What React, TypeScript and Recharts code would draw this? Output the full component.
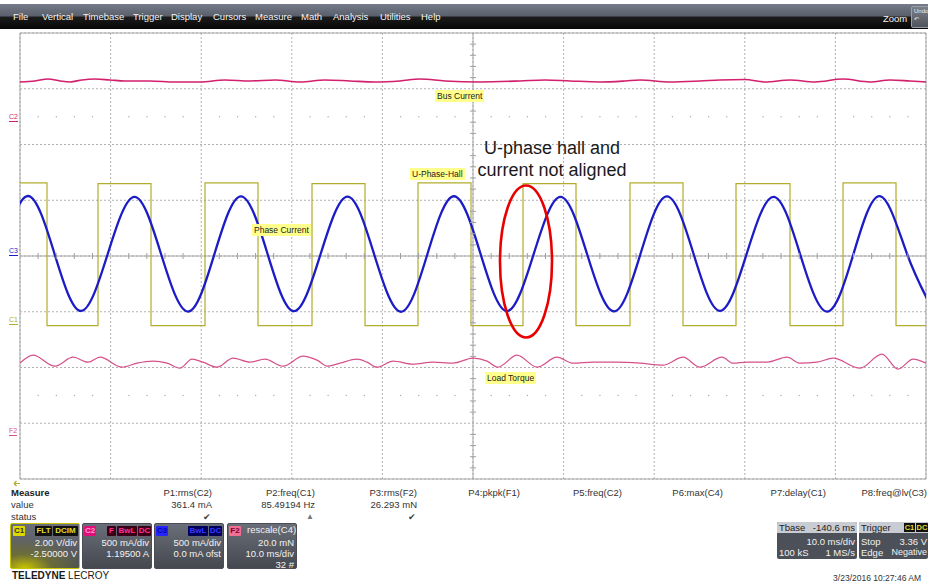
import React from 'react';
import { ComposedChart, Line, XAxis, YAxis, CartesianGrid, ReferenceLine, ReferenceArea } from 'recharts';

// ---------------- data (time in ms, 10 ms/div) ----------------
// C1 : U-phase hall (V)
const hallTime = [0, 2.98, 8.61, 14.46, 20.42, 26.27, 32.23, 38.08, 43.93, 49.78, 55.52, 61.37, 67.33, 73.18, 79.03, 84.99, 90.84, 96.69, 100];
const hallVolts = [5.12, 0, 5.1, 0, 5.12, 0, 5.1, 0, 5.12, 0, 5.1, 0, 5.12, 0, 5.1, 0, 5.12, 0, 0];

// C3 : phase current (mA)
const phaseTime = [-2.0, 0.88, 3.81, 6.73, 9.69, 12.64, 15.56, 18.54, 21.47, 24.39, 27.32, 30.24, 33.19, 36.15, 39.07, 42.05, 44.98, 47.9, 50.83, 53.75, 56.71, 59.66, 62.58, 65.56, 68.49, 71.41, 74.34, 77.26, 80.21, 83.17, 86.09, 89.07, 92.0, 94.92, 97.9, 100.83];
const phaseMilliamps = [20, 538, 20, -493, 20, 530, 20, -498, 20, 535, 20, -495, 20, 532, 20, -500, 20, 536, 20, -494, 20, 530, 20, -497, 20, 534, 20, -492, 20, 531, 20, -499, 20, 537, 20, -495];

// C2 : bus current (mA)
const busTime = [0, 1.66, 3.09, 4.42, 5.52, 6.84, 8.28, 9.93, 11.59, 14.35, 17.11, 19.87, 22.63, 25.39, 28.15, 30.91, 33.66, 36.42, 39.18, 41.94, 44.15, 46.91, 50.77, 55.19, 57.95, 60.71, 64.02, 66.78, 68.43, 71.74, 75.06, 77.26, 80.02, 82.23, 84.99, 87.75, 90.84, 93.82, 96.03, 98.23, 100];
const busMilliamps = [366, 375, 392, 375, 366, 384, 392, 384, 375, 375, 366, 366, 384, 375, 384, 366, 384, 375, 366, 375, 392, 375, 366, 375, 384, 375, 366, 375, 384, 366, 375, 384, 388, 366, 384, 366, 392, 366, 384, 375, 366];

// F2 : load torque (mN)
const torqueTime = [0, 1.43, 3.86, 5.85, 7.51, 8.83, 11.26, 12.91, 14.68, 16.23, 17.66, 18.98, 20.2, 21.74, 23.51, 25.39, 27.04, 29.03, 31.24, 32.78, 34.0, 35.32, 37.2, 38.3, 39.4, 41.17, 43.38, 45.58, 47.79, 50.0, 51.55, 52.76, 54.86, 57.06, 59.27, 61.04, 63.25, 65.89, 68.43, 70.97, 73.18, 75.06, 77.48, 78.7, 80.24, 82.45, 84.66, 86.09, 87.97, 89.74, 92.72, 95.14, 96.91, 98.57, 100];
const torqueMilliNewtons = [24.75, 27.62, 23.67, 26.9, 25.11, 26.9, 23.32, 24.75, 25.47, 24.75, 22.96, 26.19, 25.11, 23.32, 26.54, 25.11, 26.19, 23.67, 27.26, 25.83, 23.67, 24.75, 26.19, 25.11, 23.32, 25.47, 24.39, 25.11, 24.75, 26.54, 25.47, 23.32, 27.62, 23.32, 26.9, 24.75, 25.11, 25.11, 24.75, 24.03, 26.9, 23.32, 26.9, 24.75, 25.11, 25.11, 26.9, 24.75, 25.11, 26.54, 22.96, 27.98, 22.6, 26.19, 24.75];

// axis ticks (major divisions)
const xTicks = [0, 10, 20, 30, 40, 50, 60, 70, 80, 90, 100];
const yTicks = [-4, -3, -2, -1, 0, 1, 2, 3, 4];

// text content
const menuLabels = ['File', 'Vertical', 'Timebase', 'Trigger', 'Display', 'Cursors', 'Measure', 'Math', 'Analysis', 'Utilities', 'Help'];
const measureNames = ['P1:rms(C2)', 'P2:freq(C1)', 'P3:rms(F2)', 'P4:pkpk(F1)', 'P5:freq(C2)', 'P6:max(C4)', 'P7:delay(C1)', 'P8:freq@lv(C3)'];
const measureValues = ['361.4 mA', '85.49194 Hz', '26.293 mN', '', '', '', '', ''];
const measureStatus = ['ok', 'warn', 'ok', '', '', '', '', ''];

// ---------------- build ----------------
const hallData = hallTime.map((t, i) => ({ t, v: hallVolts[i] }));
const phaseData = phaseTime.map((t, i) => ({ t, v: phaseMilliamps[i] }));
const busData = busTime.map((t, i) => ({ t, v: busMilliamps[i] }));
const torqueData = torqueTime.map((t, i) => ({ t, v: torqueMilliNewtons[i] }));

const minorT = Array.from({ length: 51 }, (_, i) => i * 2).filter((t) => t % 10 !== 0);
const minorD = Array.from({ length: 41 }, (_, i) => Math.round((-4 + i * 0.2) * 10) / 10).filter((d) => Math.abs(d - Math.round(d)) > 0.01);
const hTickData = minorT.map((t) => ({ t, d: 0 }));
const vTickData = minorD.map((d) => ({ t: 50, d }));
const dotTop = minorT.map((t) => ({ t, d: 2.5 }));
const dotBot = minorT.map((t) => ({ t, d: -2.5 }));

const FONT = "'Liberation Sans', Arial, sans-serif";
const GRID = '#b0b0b0';

const menuX = [13, 42, 83, 133, 171, 213, 255, 301, 333, 380, 421];
const measureRight = [212, 315, 417, 520, 622, 723, 826, 927];

const abs = (s: React.CSSProperties): React.CSSProperties => ({ position: 'absolute', whiteSpace: 'nowrap', ...s });

const Badge = ({ x, w, bg, color, text }: any) => (
  <div style={abs({ left: x, top: 2, width: w, height: 10, background: bg, color, fontSize: 8, lineHeight: '10px', textAlign: 'center', borderRadius: 1, fontWeight: 'bold' })}>{text}</div>
);

const ChanBox = ({ left, rows, badges, bg, border }: any) => (
  <div style={abs({ left, top: 523, width: 70, height: 46, background: bg, borderRadius: 2, border: `1px solid ${border}`, boxSizing: 'border-box', overflow: 'hidden', color: '#f2f2f2', fontSize: 9.5 })}>
    {badges.map((b: any, i: number) => <Badge key={i} {...b} />)}
    {rows.map((r: string, i: number) => (
      <div key={i} style={abs({ right: 2, top: 13 + i * 11, lineHeight: '11px' })}>{r}</div>
    ))}
  </div>
);

const tickV = (p: any) => <line key={`hv${p.index}`} x1={p.cx} x2={p.cx} y1={p.cy - 3} y2={p.cy + 3} stroke="#a0a0a0" strokeWidth={1} />;
const tickH = (p: any) => <line key={`hh${p.index}`} x1={p.cx - 3} x2={p.cx + 3} y1={p.cy} y2={p.cy} stroke="#a0a0a0" strokeWidth={1} />;
const dotMark = (p: any) => <rect key={`dm${p.index}`} x={p.cx - 0.5} y={p.cy - 0.5} width={1.2} height={1.2} fill="#a8a8a8" />;

export default function App() {
  return (
    <div style={{ position: 'absolute', left: 0, top: 0, width: 928, height: 586, background: '#fff', overflow: 'hidden', fontFamily: FONT }}>
      {/* menu bar */}
      <div style={abs({ left: 0, top: 4, width: 928, height: 25, background: 'linear-gradient(to bottom, #767b89 0%, #5a5f6c 48%, #1c1c1c 52%, #060606 100%)' })} />
      {menuLabels.map((m, i) => (
        <div key={m} style={abs({ left: menuX[i], top: 11, color: '#f4f4f4', fontSize: 9.5, lineHeight: '12px' })}>{m}</div>
      ))}
      <div style={abs({ left: 883, top: 13, color: '#f4f4f4', fontSize: 9.5, lineHeight: '12px' })}>Zoom</div>
      <div style={abs({ left: 911, top: 6, width: 20, height: 22, background: 'linear-gradient(#7a7f8a, #50545c)', border: '1px solid #9a9ea8', borderRadius: 2, color: '#eee', fontSize: 6, lineHeight: '8px', textAlign: 'left', paddingLeft: 2, boxSizing: 'border-box' })}>Undo<br />↶</div>

      <div style={abs({ left: 0, top: 0 })}>
        <ComposedChart width={928} height={586} margin={{ top: 33, right: 2, bottom: 107, left: 20 }}>
          <XAxis dataKey="t" type="number" domain={[0, 100]} ticks={xTicks} hide allowDataOverflow />
          <YAxis type="number" domain={[-4, 4]} ticks={yTicks} hide />
          <YAxis yAxisId="c1" type="number" domain={[-5.5, 10.5]} hide allowDataOverflow />
          <YAxis yAxisId="c2" type="number" domain={[-3195, 805]} hide allowDataOverflow />
          <YAxis yAxisId="c3" type="number" domain={[-2000, 2000]} hide allowDataOverflow />
          <YAxis yAxisId="f2" type="number" domain={[-16.8, 143.2]} hide allowDataOverflow />
          <CartesianGrid stroke={GRID} strokeDasharray="2 2" />
          <ReferenceArea x1={0} x2={100} y1={-4} y2={4} fill="none" stroke="#a8a8a8" strokeWidth={1} ifOverflow="visible" />
          <ReferenceLine x={50} stroke="#a8a8a8" />
          <ReferenceLine y={0} stroke="#a8a8a8" />
          <Line data={hTickData} dataKey="d" stroke="none" dot={tickV} isAnimationActive={false} activeDot={false} />
          <Line data={vTickData} dataKey="d" stroke="none" dot={tickH} isAnimationActive={false} activeDot={false} />
          <Line data={dotTop} dataKey="d" stroke="none" dot={dotMark} isAnimationActive={false} activeDot={false} />
          <Line data={dotBot} dataKey="d" stroke="none" dot={dotMark} isAnimationActive={false} activeDot={false} />
          <Line yAxisId="f2" data={torqueData} dataKey="v" type="monotone" stroke="#d6508a" strokeWidth={1.2} dot={false} isAnimationActive={false} />
          <Line yAxisId="c2" data={busData} dataKey="v" type="monotone" stroke="#d21f6e" strokeWidth={1.6} dot={false} isAnimationActive={false} />
          <Line yAxisId="c1" data={hallData} dataKey="v" type="stepAfter" stroke="#b2ad2c" strokeWidth={1.2} dot={false} isAnimationActive={false} />
          <Line yAxisId="c3" data={phaseData} dataKey="v" type="natural" stroke="#1c1cc6" strokeWidth={2.3} dot={false} isAnimationActive={false} />
        </ComposedChart>
      </div>

      {/* channel markers */}
      {[
        { t: 'C2', y: 113, c: '#d21f6e' },
        { t: 'C3', y: 247, c: '#1c1cc6' },
        { t: 'C1', y: 316, c: '#b2ad2c' },
        { t: 'F2', y: 427, c: '#d6508a' },
      ].map((m) => (
        <div key={m.t} style={abs({ left: 9, top: m.y, color: m.c, fontSize: 7, lineHeight: '8px', borderBottom: `1.5px solid ${m.c}` })}>{m.t}</div>
      ))}

      {/* annotation labels */}
      {[
        { t: 'Bus Current', x: 435, y: 90 },
        { t: 'U-Phase-Hall', x: 410, y: 168 },
        { t: 'Phase Current', x: 252, y: 224 },
        { t: 'Load Torque', x: 485, y: 372 },
      ].map((l) => (
        <div key={l.t} style={abs({ left: l.x, top: l.y, background: '#ffff8c', color: '#222', fontSize: 8.5, lineHeight: '12px', padding: '0 2px' })}>{l.t}</div>
      ))}

      <div style={abs({ left: 452, top: 137, width: 200, textAlign: 'center', fontSize: 18, lineHeight: '22px', color: '#1a1a1a' })}>
        U-phase hall and<br />current not aligned
      </div>
      <svg width={928} height={586} style={{ position: 'absolute', left: 0, top: 0, pointerEvents: 'none' }}>
        <ellipse cx={526} cy={261.5} rx={26} ry={76} fill="none" stroke="#e80000" strokeWidth={2.6} />
        <path d="M 14 483.5 L 20 483.5 M 14 483.5 L 16.5 481 M 14 483.5 L 16.5 486" stroke="#b2ad2c" strokeWidth={1.2} fill="none" />
      </svg>

      {/* measure table */}
      <div style={abs({ left: 11, top: 487, fontSize: 9.5, lineHeight: '12px', color: '#222', fontWeight: 'bold' })}>Measure</div>
      <div style={abs({ left: 11, top: 499, fontSize: 9.5, lineHeight: '12px', color: '#333' })}>value</div>
      <div style={abs({ left: 11, top: 511, fontSize: 9.5, lineHeight: '12px', color: '#333' })}>status</div>
      {measureNames.map((n, i) => (
        <React.Fragment key={n}>
          <div style={abs({ right: 928 - measureRight[i], top: 487, fontSize: 9.5, lineHeight: '12px', color: '#333' })}>{n}</div>
          {measureValues[i] && <div style={abs({ right: 928 - measureRight[i], top: 499, fontSize: 9.5, lineHeight: '12px', color: '#333' })}>{measureValues[i]}</div>}
          {measureStatus[i] === 'ok' && <div style={abs({ right: 928 - measureRight[i] + 1, top: 511, fontSize: 9, lineHeight: '12px', color: '#444' })}>✔</div>}
          {measureStatus[i] === 'warn' && <div style={abs({ right: 928 - measureRight[i] + 1, top: 511, fontSize: 8, lineHeight: '12px', color: '#777' })}>▲</div>}
        </React.Fragment>
      ))}

      {/* channel descriptor boxes */}
      <ChanBox left={10} border="#c8c400" bg="radial-gradient(ellipse 60px 30px at 20% 100%, #c8c400 0%, rgba(120,120,40,0.7) 45%, rgba(90,93,100,0) 100%), linear-gradient(#6a6e78, #4a4d55)"
        badges={[
          { x: 2, w: 12, bg: '#dcd800', color: '#333', text: 'C1' },
          { x: 24, w: 17, bg: '#111', color: '#e0dc30', text: 'FLT' },
          { x: 42, w: 25, bg: '#111', color: '#e0dc30', text: 'DCIM' },
        ]}
        rows={['2.00 V/div', '-2.50000 V']} />
      <ChanBox left={82} border="#4a4d55" bg="linear-gradient(#6a6e78, #45484f)"
        badges={[
          { x: 1, w: 12, bg: '#e0107a', color: '#ff9ccc', text: 'C2' },
          { x: 24, w: 9, bg: '#3a0018', color: '#ff3090', text: 'F' },
          { x: 34, w: 20, bg: '#3a0018', color: '#ff3090', text: 'BwL' },
          { x: 55, w: 13, bg: '#3a0018', color: '#ff3090', text: 'DC' },
        ]}
        rows={['500 mA/div', '1.19500 A']} />
      <ChanBox left={154} border="#4a4d55" bg="linear-gradient(#6a6e78, #45484f)"
        badges={[
          { x: 1, w: 12, bg: '#2424ff', color: '#0c0c90', text: 'C3' },
          { x: 33, w: 20, bg: '#00005a', color: '#3838ff', text: 'BwL' },
          { x: 54, w: 13, bg: '#00005a', color: '#3838ff', text: 'DC' },
        ]}
        rows={['500 mA/div', '0.0 mA ofst']} />
      <ChanBox left={227} border="#4a4d55" bg="linear-gradient(#6a6e78, #45484f)"
        badges={[
          { x: 1, w: 12, bg: '#f06f92', color: '#7a0030', text: 'F2' },
        ]}
        rows={['20.0 mN', '10.0 ms/div', '32 #']} />
      <div style={abs({ left: 247, top: 524, color: '#f2f2f2', fontSize: 9.5, lineHeight: '11px' })}>rescale(C4)</div>

      {/* timebase box */}
      <div style={abs({ left: 777, top: 522, width: 80, height: 37, background: '#4c5058', borderRadius: 2, overflow: 'hidden', color: '#f2f2f2', fontSize: 9.5 })}>
        <div style={abs({ left: 0, top: 0, width: 80, height: 11, background: '#c9ccd3' })} />
        <div style={abs({ left: 2, top: 0, lineHeight: '11px', color: '#222' })}>Tbase</div>
        <div style={abs({ right: 2, top: 0, lineHeight: '11px', color: '#222' })}>-140.6 ms</div>
        <div style={abs({ right: 2, top: 14, lineHeight: '11px' })}>10.0 ms/div</div>
        <div style={abs({ left: 2, top: 25, lineHeight: '11px' })}>100 kS</div>
        <div style={abs({ right: 2, top: 25, lineHeight: '11px' })}>1 MS/s</div>
      </div>
      {/* trigger box */}
      <div style={abs({ left: 859, top: 522, width: 69, height: 37, background: '#4c5058', borderRadius: 2, overflow: 'hidden', color: '#f2f2f2', fontSize: 9.5 })}>
        <div style={abs({ left: 0, top: 0, width: 69, height: 11, background: '#c9ccd3' })} />
        <div style={abs({ left: 2, top: 0, lineHeight: '11px', color: '#222' })}>Trigger</div>
        <div style={abs({ left: 45, top: 1, width: 11, height: 9, background: '#111', color: '#e0dc30', fontSize: 7.5, lineHeight: '9px', textAlign: 'center', fontWeight: 'bold' })}>C1</div>
        <div style={abs({ left: 57, top: 1, width: 12, height: 9, background: '#111', color: '#e0dc30', fontSize: 7.5, lineHeight: '9px', textAlign: 'center', fontWeight: 'bold' })}>DC</div>
        <div style={abs({ left: 2, top: 14, lineHeight: '11px' })}>Stop</div>
        <div style={abs({ right: 1, top: 14, lineHeight: '11px' })}>3.36 V</div>
        <div style={abs({ left: 2, top: 25, lineHeight: '11px' })}>Edge</div>
        <div style={abs({ right: 1, top: 25, lineHeight: '11px', fontSize: 9 })}>Negative</div>
      </div>

      <div style={abs({ left: 12, top: 570, fontSize: 10, lineHeight: '12px', color: '#1a1a1a' })}><b>TELEDYNE</b> LECROY</div>
      <div style={abs({ right: 7, top: 572, fontSize: 8.5, lineHeight: '12px', color: '#333' })}>3/23/2016 10:27:46 AM</div>
    </div>
  );
}
